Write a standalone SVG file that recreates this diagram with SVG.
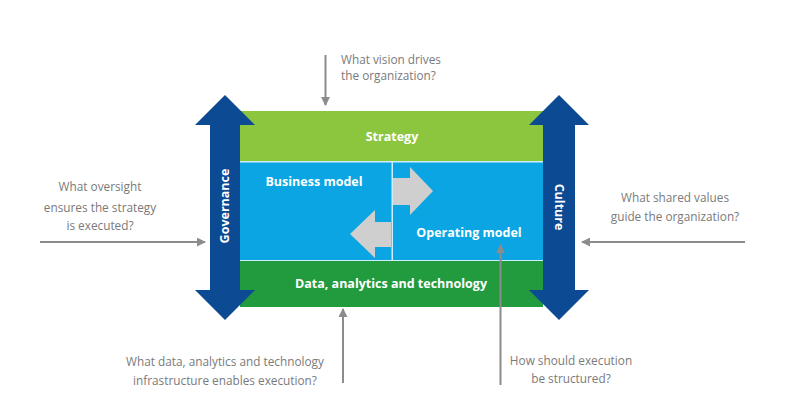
<svg xmlns="http://www.w3.org/2000/svg" width="800" height="401" viewBox="0 0 800 401">
<defs>
<style>
.q{font-family:"Open Sans","Liberation Sans",sans-serif;font-size:11.8px;fill:#7a7a7a;text-anchor:middle}
.w{font-family:"Open Sans","Liberation Sans",sans-serif;font-size:12.5px;font-weight:bold;fill:#ffffff;text-anchor:middle}
.c{stroke:#8c8c8c;stroke-width:2;fill:none}
.blue{fill:#0c4a94}
.gray{fill:#cfcfcf}
</style>
<marker id="ah" viewBox="0 0 10 10" refX="9" refY="5" markerWidth="4.5" markerHeight="4.5" orient="auto" markerUnits="strokeWidth">
<path d="M0,0 L10,5 L0,10 Z" fill="#8c8c8c"/>
</marker>
</defs>
<rect width="800" height="401" fill="#ffffff"/>
<g id="strategy">
<rect x="240" y="111" width="303" height="51" fill="#8cc63f"/>
<text class="w" x="392" y="141">Strategy</text>
</g>
<g id="business-model">
<rect x="240" y="162" width="152" height="99" fill="#0aa5e2"/>
<text class="w" x="314" y="186">Business model</text>
</g>
<g id="operating-model">
<rect x="393" y="162" width="150" height="99" fill="#0aa5e2"/>
<text class="w" x="469" y="237">Operating model</text>
</g>
<rect x="240" y="161" width="303" height="1.5" fill="#cfeefc"/>
<rect x="240" y="260" width="303" height="1.5" fill="#cfeefc"/>
<rect x="391.5" y="162" width="1.5" height="99" fill="#cfeefc"/>
<g id="data-analytics-technology">
<rect x="240" y="261" width="303" height="46" fill="#229b3f"/>
<text class="w" x="391" y="288">Data, analytics and technology</text>
</g>
<g id="arrow-right">
<path class="gray" d="M393,178 L410,178 L410,167 L433,191 L410,215 L410,205 L393,205 Z"/>
</g>
<g id="arrow-left">
<path class="gray" d="M391,222 L375,222 L375,210 L350,234 L375,258 L375,247 L391,247 Z"/>
</g>
<g id="governance">
<path class="blue" d="M225,95 L255,125 L240,125 L240,290 L255,290 L225,320 L195,290 L210,290 L210,125 L195,125 Z"/>
<text class="w" transform="translate(229,206) rotate(-90)">Governance</text>
</g>
<g id="culture">
<path class="blue" d="M559,95 L589,125 L575,125 L575,290 L589,290 L559,320 L529,290 L543,290 L543,125 L529,125 Z"/>
<text class="w" transform="translate(554.5,207) rotate(90)">Culture</text>
</g>
<g id="connectors">
<line class="c" x1="325.5" y1="55" x2="325.5" y2="105" marker-end="url(#ah)"/>
<line class="c" x1="40" y1="242" x2="205" y2="242" marker-end="url(#ah)"/>
<line class="c" x1="745" y1="242" x2="582" y2="242" marker-end="url(#ah)"/>
<line class="c" x1="343" y1="383" x2="343" y2="309" marker-end="url(#ah)"/>
<line class="c" x1="500.5" y1="385" x2="500.5" y2="245" marker-end="url(#ah)"/>
</g>
<g id="questions">
<text class="q" style="text-anchor:start" x="341" y="64">What vision drives</text>
<text class="q" style="text-anchor:start" x="341" y="80">the organization?</text>
<text class="q" x="100" y="191">What oversight</text>
<text class="q" x="100" y="212">ensures the strategy</text>
<text class="q" x="100" y="230">is executed?</text>
<text class="q" x="675" y="202">What shared values</text>
<text class="q" x="675" y="221">guide the organization?</text>
<text class="q" x="225" y="366">What data, analytics and technology</text>
<text class="q" x="225" y="385">infrastructure enables execution?</text>
<text class="q" x="571" y="365">How should execution</text>
<text class="q" x="571" y="383">be structured?</text>
</g>
</svg>
